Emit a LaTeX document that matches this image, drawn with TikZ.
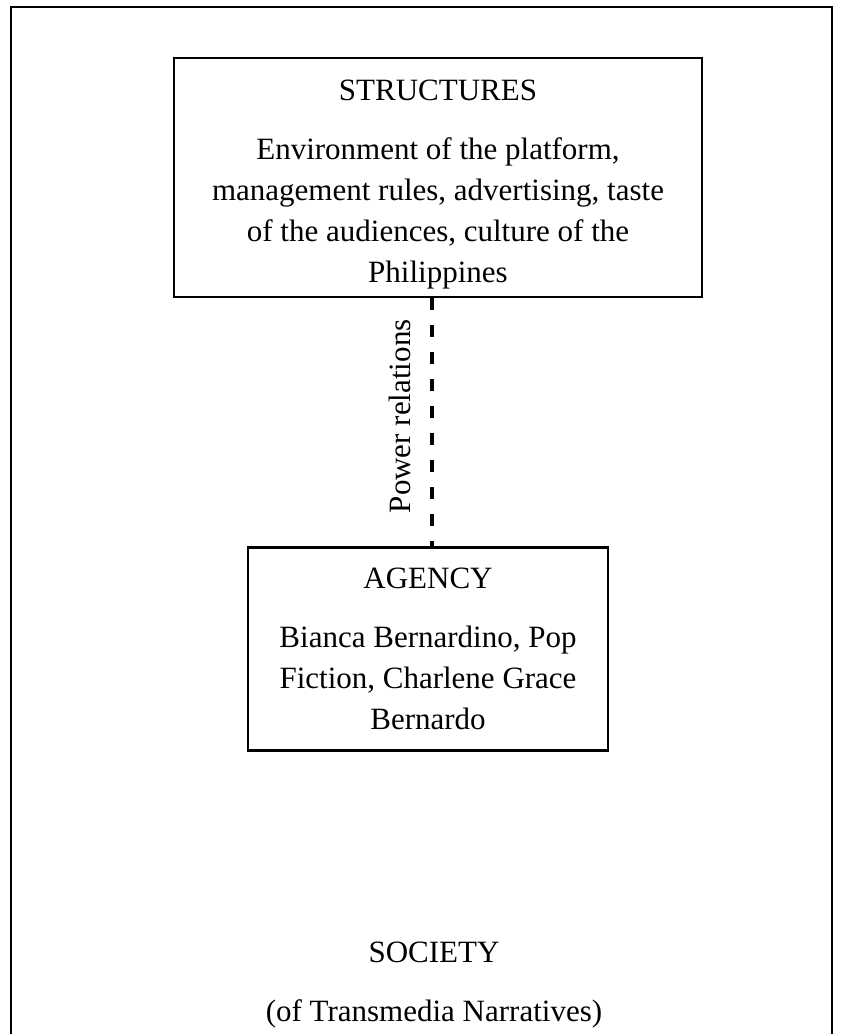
\documentclass[tikz,border=0pt]{standalone}
\usepackage{fontspec}
\setmainfont{Liberation Serif}
\usetikzlibrary{positioning}

\tikzset{
  box/.style = {draw, line width=2.5pt, align=center, inner sep=0pt},
  rel/.style = {line width=3.5pt, dash pattern=on 12pt off 15pt},
}

\begin{document}
\begin{tikzpicture}[x=1pt, y=-1pt, node distance=248pt, font=\fontsize{31}{41}\selectfont]
    \useasboundingbox (0,0) rectangle (844,1034);
    \draw[line width=2.5pt] (11,1050) -- (11,7) -- (832,7) -- (832,1050);
    \node[box, minimum width=528pt, minimum height=239pt] (structures) at (438,177.5)
      {\rule{0pt}{34pt}STRUCTURES\\[18pt]Environment of the platform,\\management rules, advertising, taste\\of the audiences, culture of the\\Philippines};
    \node[box, minimum width=360pt, minimum height=203pt, below=of structures, xshift=-10pt] (agency)
      {AGENCY\\[18pt]Bianca Bernardino, Pop\\Fiction, Charlene Grace\\Bernardo};
    \draw[rel] ([xshift=-6pt]structures.south) -- ([xshift=4pt]agency.north)
      node[pos=0.476, rotate=90, anchor=south, inner xsep=0pt, inner ysep=19pt] (power) {Power relations};
    \node[align=center, inner sep=0pt] (society) at (434,985.5)
      {SOCIETY\\[18pt](of Transmedia Narratives)};
\end{tikzpicture}
\end{document}
